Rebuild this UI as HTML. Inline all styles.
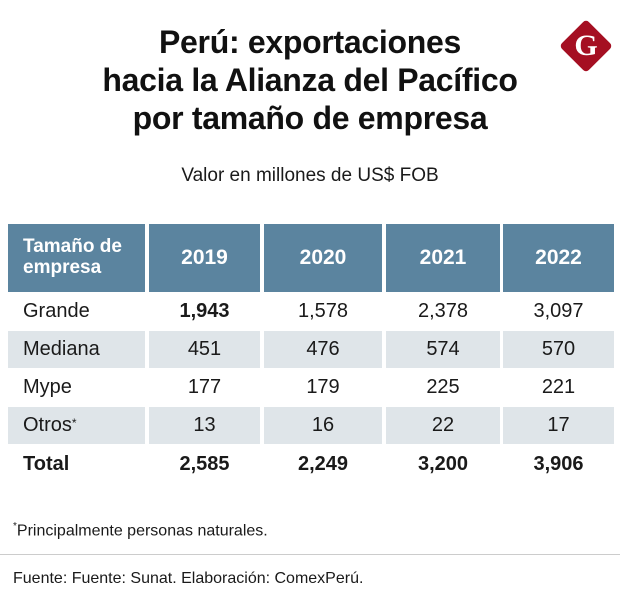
<!DOCTYPE html>
<html><head><meta charset="utf-8"><style>
body{margin:0;width:620px;height:616px;background:#fff;font-family:"Liberation Sans",sans-serif;color:#1a1a1a;position:relative;overflow:hidden}
.t{position:absolute;left:0;width:620px;text-align:center;font-weight:bold;font-size:32px;letter-spacing:-0.3px;color:#111}
.cell{position:absolute;display:flex;align-items:center;justify-content:center;font-size:20px}
.h{background:#5b849f;color:#fff;font-weight:bold;font-size:21px}
.sh{background:#dfe5e9}
</style></head><body>
<div class="t" style="top:24px">Perú: exportaciones</div>
<div class="t" style="top:62px">hacia la Alianza del Pacífico</div>
<div class="t" style="top:100px">por tamaño de empresa</div>
<div style="position:absolute;left:567px;top:27px;width:38px;height:38px;background:#a50f22;transform:rotate(45deg);border-radius:4px"></div>
<div style="position:absolute;left:567px;top:27px;width:38px;height:38px;line-height:38px;text-align:center;color:#fff;font-family:'Liberation Serif',serif;font-weight:bold;font-size:30px">G</div>
<div style="position:absolute;top:165px;left:0;width:620px;text-align:center;font-size:19px">Valor en millones de US$ FOB</div>
<div id="tbl"></div>
<div style="position:absolute;left:13px;top:521px;font-size:16px"><sup style="font-size:10px">*</sup>Principalmente personas naturales.</div>
<div style="position:absolute;left:0;top:554px;width:620px;height:1px;background:#ccc"></div>
<div style="position:absolute;left:13px;top:570px;font-size:16px">Fuente: Fuente: Sunat. Elaboración: ComexPerú.</div>
<script>
const years=["2019","2020","2021","2022"];
const categories=["Grande","Mediana","Mype","Otros*"];
const grande=["1,943","1,578","2,378","3,097"];
const mediana=["451","476","574","570"];
const mype=["177","179","225","221"];
const otros=["13","16","22","17"];
const total=["2,585","2,249","3,200","3,906"];
const cols=[[8,137],[149,111],[264,118],[386,114],[503,111]];
const rowsY=[[292,38],[331,37],[368,38],[407,37],[444,41]];
const tbl=document.getElementById('tbl');
function cell(x,y,w,h,txt,cls,align,name){
  const d=document.createElement('div');
  d.className='cell '+(cls||'');
  d.style.left=x+'px';d.style.top=y+'px';d.style.width=w+'px';d.style.height=h+'px';
  if(align==='l'){d.style.justifyContent='flex-start';d.style.paddingLeft='15px';d.style.width=(w-15)+'px';}
  d.innerHTML=txt;
  
  
  tbl.appendChild(d);return d;
}
const hd=cell(cols[0][0],224,cols[0][1],68,'Tamaño de<br>empresa','h','l','header-size');
hd.style.lineHeight='1.1';hd.style.fontSize='19px';
years.forEach((y,i)=>cell(cols[i+1][0],224,cols[i+1][1],68,y,'h','c','header-'+y));
const data=[grande,mediana,mype,otros,total];
const labels=categories.concat(["Total"]);
data.forEach((r,ri)=>{
  const [y,h]=rowsY[ri];const sh=(ri===1||ri===3)?'sh':'';
  let lab=labels[ri].replace('*','<span style="font-size:12px;align-self:flex-start;margin-top:9px">*</span>');
  const l=cell(cols[0][0],y,cols[0][1],h,lab,sh,'l','row-label-'+labels[ri].replace('*','').toLowerCase());
  if(ri===4)l.style.fontWeight='bold';
  r.forEach((v,ci)=>{
    const c=cell(cols[ci+1][0],y,cols[ci+1][1],h,v,sh,'c','value-'+labels[ri].replace('*','').toLowerCase()+'-'+years[ci]);
    if(ri===4||(ri===0&&ci===0))c.style.fontWeight='bold';
  });
});
</script>
</body></html>
